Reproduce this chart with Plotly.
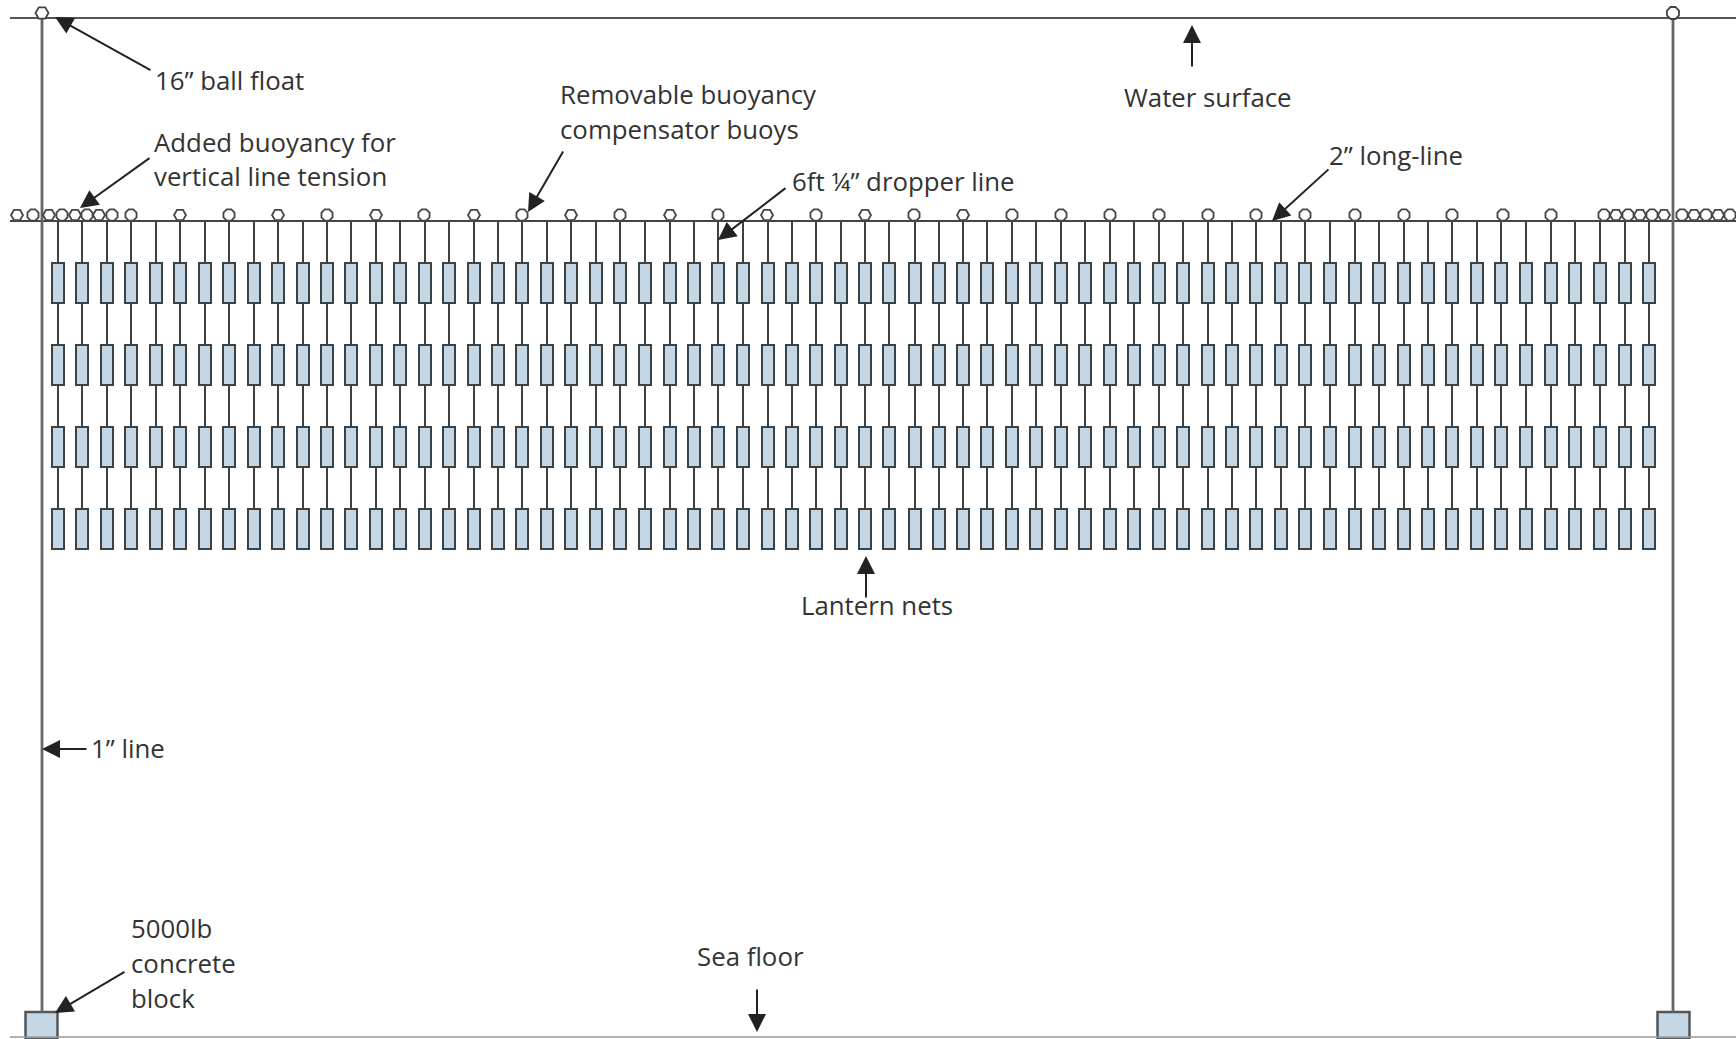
import plotly.graph_objects as go

# Diagram values (pixel-like diagram units)
columns = [58,82,107,131,156,180,205,229,254,278,303,327,351,376,400,425,449,474,498,522,547,571,596,620,645,670,694,718,743,768,792,816,841,865,889,915,939,963,987,1012,1036,1061,1085,1110,1134,1159,1183,1208,1232,1256,1281,1305,1330,1355,1379,1404,1428,1452,1477,1501,1526,1551,1575,1600,1625,1649]
net_tops = [263, 345, 427, 509]
net_height = [40]
vertical_lines = [42, 1673]
surface_depth = 18
longline_depth = 221
floor_depth = 1037
block_x = [41.5, 1673.5]
block_top = 1012
block_height = 27

round_floats = [33,62,87,112,131,229,327,424,522,620,718,816,914,1012,1061,1110,1159,1208,1256,1305,1355,1404,1452,1503,1551,1604,1628,1652,1682,1706,1730]
diamond_floats = [17,49,75,99,180,278,376,474,571,670,767,865,963,1616,1640,1664,1694,1718]
float_depth = 215
top_round = [1673]
top_diamond = [42]
top_float_depth = 13

labels = [
    ("16” ball float", 155, 80),
    ("Added buoyancy for", 154, 142),
    ("vertical line tension", 154, 176),
    ("Removable buoyancy", 560, 94),
    ("compensator buoys", 560, 129),
    ("6ft ¼” dropper line", 792, 181),
    ("Water surface", 1124, 97),
    ("2” long-line", 1329, 155),
    ("Lantern nets", 801, 605),
    ("1” line", 91, 748),
    ("5000lb", 131, 928),
    ("concrete", 131, 963),
    ("block", 131, 998),
    ("Sea floor", 697, 956),
]
arrows = [
    (152, 71, 55, 17),
    (151, 157, 80, 208),
    (564, 150, 528, 212),
    (787, 187, 718, 240),
    (1192, 68, 1192, 25),
    (1330, 168, 1272, 221),
    (866, 599, 866, 556),
    (88, 749, 42, 749),
    (126, 971, 55, 1013),
    (757, 988, 757, 1032),
]

FILL = "#c5d7e4"
EDGE = "#3a4245"
fig = go.Figure()

# lantern nets
for top in net_tops:
    fig.add_trace(go.Bar(x=columns, y=net_height * len(columns), base=[top] * len(columns), width=12,
                         marker=dict(color=FILL, line=dict(color=EDGE, width=2)), showlegend=False, hoverinfo="skip"))
# concrete blocks
fig.add_trace(go.Bar(x=block_x, y=[block_height] * 2, base=[block_top] * 2, width=32,
                     marker=dict(color=FILL, line=dict(color="#50585c", width=2.5)), showlegend=False, hoverinfo="skip"))

# dropper segments between nets
xs, ys = [], []
starts = [longline_depth] + [t + net_height[0] for t in net_tops[:-1]]
for c in columns:
    for s, t in zip(starts, net_tops):
        xs += [c, c, None]
        ys += [s, t, None]
fig.add_trace(go.Scatter(x=xs, y=ys, mode="lines", line=dict(color="#3f3f3f", width=2), showlegend=False, hoverinfo="skip"))

# horizontal lines
for d, col, w in [(surface_depth, "#555555", 2.2), (longline_depth, "#444444", 2.2), (floor_depth, "#999999", 1.5)]:
    fig.add_trace(go.Scatter(x=[10, 1736], y=[d, d], mode="lines", line=dict(color=col, width=w), showlegend=False, hoverinfo="skip"))
# vertical mooring lines
for v in vertical_lines:
    fig.add_trace(go.Scatter(x=[v, v], y=[surface_depth, block_top], mode="lines", line=dict(color="#666666", width=2.8), showlegend=False, hoverinfo="skip"))

# floats
mk = dict(color="white", line=dict(color="#444444", width=1.8))
fig.add_trace(go.Scatter(x=round_floats, y=[float_depth] * len(round_floats), mode="markers",
                         marker=dict(symbol="octagon", size=12, **mk), showlegend=False, hoverinfo="skip"))
fig.add_trace(go.Scatter(x=diamond_floats, y=[float_depth] * len(diamond_floats), mode="markers",
                         marker=dict(symbol="hexagon2", size=12, **mk), showlegend=False, hoverinfo="skip"))
fig.add_trace(go.Scatter(x=top_round, y=[top_float_depth], mode="markers",
                         marker=dict(symbol="octagon", size=13, **mk), showlegend=False, hoverinfo="skip"))
fig.add_trace(go.Scatter(x=top_diamond, y=[top_float_depth], mode="markers",
                         marker=dict(symbol="hexagon2", size=13, **mk), showlegend=False, hoverinfo="skip"))

annotations = []
for text, x, y in labels:
    annotations.append(dict(x=x, y=y, text=text, xref="x", yref="y", showarrow=False, xanchor="left", yanchor="middle",
                            font=dict(family="Open Sans", size=25.8, color="#333333"), borderpad=0, borderwidth=0))
for x0, y0, x1, y1 in arrows:
    annotations.append(dict(x=x1, y=y1, ax=x0, ay=y0, xref="x", yref="y", axref="x", ayref="y", text="",
                            showarrow=True, arrowhead=2, arrowsize=1.8, arrowwidth=2, arrowcolor="#222222", standoff=0))

fig.update_layout(
    width=1736, height=1039, margin=dict(l=0, r=0, t=0, b=0),
    paper_bgcolor="white", plot_bgcolor="white", barmode="overlay", showlegend=False,
    xaxis=dict(range=[0, 1736], visible=False, fixedrange=True),
    yaxis=dict(range=[1039, 0], visible=False, fixedrange=True),
    annotations=annotations,
)
fig.write_html("out.html", config={"displayModeBar": False},
               post_script="document.body.style.margin='0';document.body.style.overflow='hidden';")
